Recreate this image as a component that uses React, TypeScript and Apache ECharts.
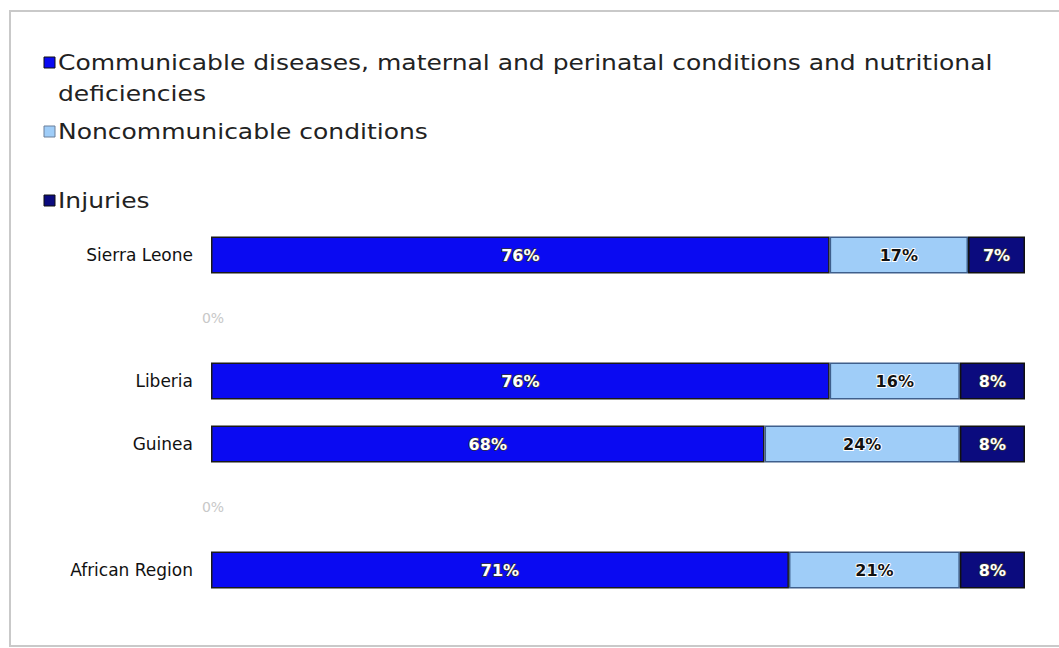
import React, { useEffect, useRef } from "react";
import * as echarts from "echarts";

const categories = ["Sierra Leone", " ", "Liberia", "Guinea", "  ", "African Region"];
const communicable = [76, 0, 76, 68, 0, 71];
const noncommunicable = [17, null, 16, 24, null, 21];
const injuries = [7, null, 8, 8, null, 8];
const seriesNames = [
  "Communicable diseases, maternal and perinatal conditions and nutritional\ndeficiencies",
  "Noncommunicable conditions",
  "Injuries",
];

const COLORS = ["#0a0af2", "#9fcdf8", "#0b0b7e"];

export default function App() {
  const ref = useRef<HTMLDivElement>(null);
  useEffect(() => {
    if (!ref.current) return;
    const chart = echarts.init(ref.current, null, { renderer: "svg" });
    const fontFamily = "DejaVu Sans";
    const labelBase = {
      show: true,
      position: "inside",
      formatter: "{c}%",
      fontFamily,
      fontSize: 16,
      fontWeight: "bold",
    };
    const mkData = (arr: (number | null)[]) =>
      arr.map((v) =>
        v === 0
          ? {
              value: 0,
              itemStyle: { borderWidth: 0 },
              label: { color: "#c8c8c8", fontWeight: "normal", textBorderWidth: 0, fontSize: 14, offset: [2, 0] },
            }
          : v
      );
    const legendY = [62, 131, 200];
    const legendGraphics: any[] = [];
    seriesNames.forEach((name, i) => {
      legendGraphics.push({
        type: "rect",
        shape: { x: 44, y: legendY[i] - 5, width: 11, height: 11 },
        style: { fill: COLORS[i], stroke: i === 1 ? "#6b7f99" : "#111", lineWidth: 1 },
      });
      legendGraphics.push({
        type: "text",
        x: 58,
        y: legendY[i] - 15,
        scaleX: 1.19,
        style: {
          text: name,
          fontFamily,
          fontSize: 21,
          fill: "#222",
          lineHeight: 31,
          textVerticalAlign: "top",
        },
      });
    });
    chart.setOption({
      animation: false,
      backgroundColor: "#fff",
      grid: { left: 211, right: 34, top: 223.5, height: 378, containLabel: false },
      xAxis: { type: "value", min: 0, max: 100, show: false },
      yAxis: {
        type: "category",
        data: categories,
        inverse: true,
        axisLine: { show: false },
        axisTick: { show: false },
        axisLabel: { fontFamily, fontSize: 17, color: "#111", margin: 18 },
      },
      graphic: [
        {
          type: "rect",
          shape: { x: 10, y: 11, width: 1080, height: 635 },
          style: { fill: "none", stroke: "#c9c9c9", lineWidth: 2 },
        },
        ...legendGraphics,
      ],
      series: [
        {
          name: seriesNames[0],
          type: "bar",
          stack: "total",
          barWidth: 37,
          data: mkData(communicable),
          itemStyle: { color: COLORS[0], borderColor: "#1a1a1a", borderWidth: 1.5 },
          label: { ...labelBase, color: "#fff", textBorderColor: "#333", textBorderWidth: 1.5 },
        },
        {
          name: seriesNames[1],
          type: "bar",
          stack: "total",
          barWidth: 37,
          data: noncommunicable,
          itemStyle: { color: COLORS[1], borderColor: "#3f5f8c", borderWidth: 1.5 },
          label: { ...labelBase, color: "#111", textBorderColor: "#fff", textBorderWidth: 2 },
        },
        {
          name: seriesNames[2],
          type: "bar",
          stack: "total",
          barWidth: 37,
          data: injuries,
          itemStyle: { color: COLORS[2], borderColor: "#111", borderWidth: 1.5 },
          label: { ...labelBase, color: "#fff", textBorderColor: "#333", textBorderWidth: 1.5 },
        },
      ],
    });
    return () => chart.dispose();
  }, []);
  return (
    <div
      ref={ref}
      style={{ position: "absolute", left: 0, top: 0, width: 1059, height: 648, background: "#fff" }}
    />
  );
}
